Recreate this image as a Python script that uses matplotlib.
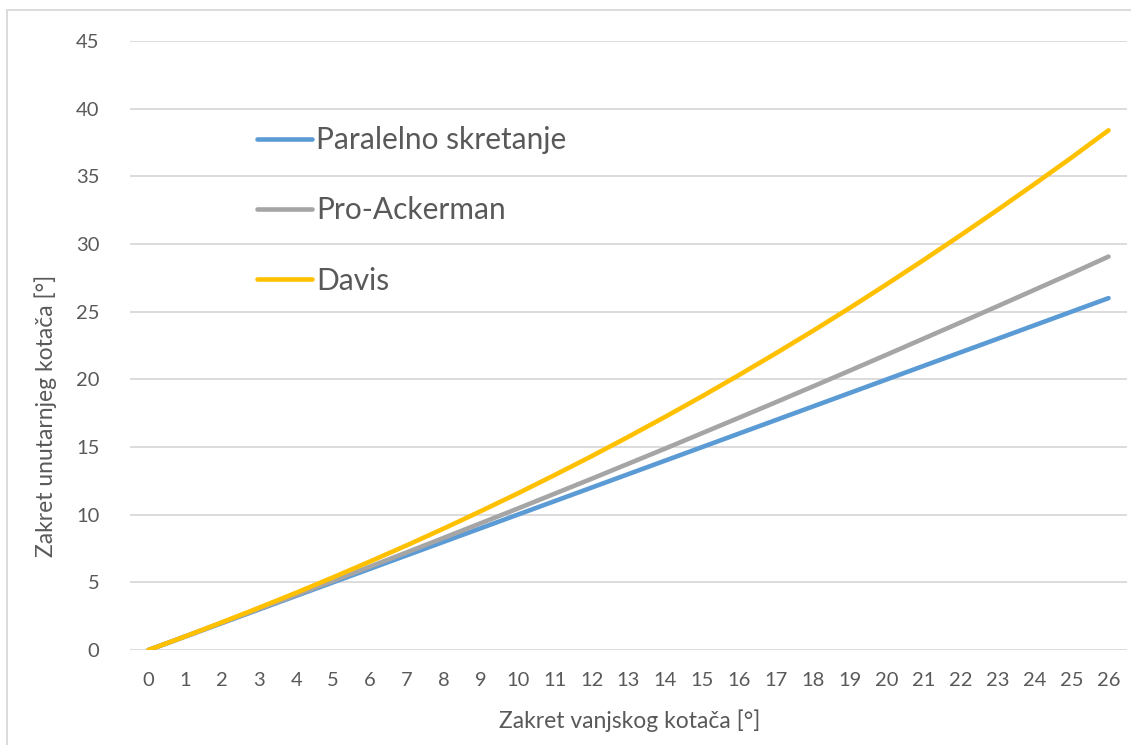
import matplotlib
matplotlib.use("Agg")
import matplotlib.pyplot as plt
from matplotlib.patches import Rectangle

# outer wheel angle (categories) and inner wheel angle
outer_deg = list(range(27))
paralelno = [0, 1, 2, 3, 4, 5, 6, 7, 8, 9, 10, 11, 12, 13, 14, 15, 16, 17, 18,
             19, 20, 21, 22, 23, 24, 25, 26]
pro_ackerman = [0, 1.00, 2.02, 3.04, 4.07, 5.11, 6.16, 7.22, 8.29, 9.37, 10.45,
                11.55, 12.65, 13.77, 14.89, 16.03, 17.17, 18.32, 19.48, 20.65,
                21.83, 23.02, 24.21, 25.41, 26.62, 27.83, 29.07]
davis = [0, 1.01, 2.06, 3.13, 4.23, 5.37, 6.54, 7.74, 8.98, 10.26, 11.57,
         12.93, 14.32, 15.76, 17.24, 18.76, 20.33, 21.94, 23.59, 25.29, 27.04,
         28.83, 30.66, 32.53, 34.44, 36.39, 38.40]

series = [
    ("Paralelno skretanje", paralelno, "#5B9BD5"),
    ("Pro-Ackerman", pro_ackerman, "#A5A5A5"),
    ("Davis", davis, "#FFC000"),
]

TEXT = "#595959"
GRID = "#D9D9D9"
W, H = 1131, 745

plt.rcParams["font.family"] = ["Lato", "DejaVu Sans"]

fig = plt.figure(figsize=(W / 100, H / 100), dpi=100)
fig.patches.append(Rectangle((7 / W, -0.1), 1.2, 1 - 10 / H + 0.1, transform=fig.transFigure,
                             fill=False, edgecolor=GRID, linewidth=1.3))

ax = fig.add_axes([130 / W, 1 - 650 / H, (1127 - 130) / W, (650 - 41) / H])

for name, vals, color in series:
    ax.plot(outer_deg, vals, color=color, linewidth=3.3, solid_capstyle="round",
            solid_joinstyle="round", label=name, zorder=3)

ax.set_xlim(-0.5, 26.5)
ax.set_ylim(0, 45)
ax.set_xticks(outer_deg)
ax.set_yticks(range(0, 46, 5))
ax.grid(axis="y", color=GRID, linewidth=1.3)
ax.set_axisbelow(True)
for sp in ax.spines.values():
    sp.set_visible(False)
ax.tick_params(length=0, labelsize=14.5, colors=TEXT)
ax.tick_params(axis="y", pad=22)
ax.tick_params(axis="x", pad=16)

ax.set_xlabel("Zakret vanjskog kotača [°]", fontsize=16.5, color=TEXT)
ax.set_ylabel("Zakret unutarnjeg kotača [°]", fontsize=16.5, color=TEXT)
ax.xaxis.set_label_coords((630 - 130) / (1127 - 130), -(709 - 650) / (650 - 41))
ax.yaxis.set_label_coords(-(130 - 57) / (1127 - 130), (650 - 416) / (650 - 41))

leg = ax.legend(loc="upper left", bbox_to_anchor=(257 / W, 1 - 126 / H),
                bbox_transform=fig.transFigure, frameon=False, fontsize=21.5,
                handlelength=1.84, handletextpad=0.13, labelspacing=1.42,
                borderpad=0, borderaxespad=0)
for t in leg.get_texts():
    t.set_color(TEXT)
for h in leg.get_lines():
    h.set_linewidth(3.3)
    h.set_solid_capstyle("round")

fig.savefig("out.png", dpi=100)
